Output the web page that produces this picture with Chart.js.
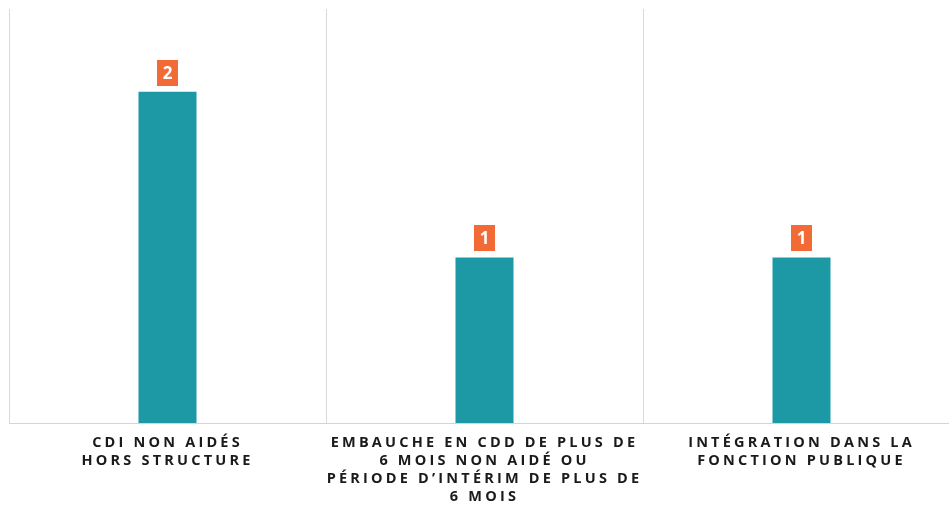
<!doctype html>
<html><head>
<meta charset="utf-8">
<title>Sorties</title>
<script src="https://cdn.jsdelivr.net/npm/chart.js"></script>
<style>
  html, body { margin: 0; padding: 0; background: #fff; overflow: hidden; }
  #wrap { position: relative; width: 960px; height: 505px; }
</style>
</head>
<body>
<div id="wrap"><canvas id="myChart"></canvas></div>
<script>
// categories (already split on lines) and counts
const categories = [
  ['CDI NON AIDÉS', 'HORS STRUCTURE'],
  ['EMBAUCHE EN CDD DE PLUS DE', '6 MOIS NON AIDÉ OU', 'PÉRIODE D’INTÉRIM DE PLUS DE', '6 MOIS'],
  ['INTÉGRATION DANS LA', 'FONCTION PUBLIQUE']
];
const valeurs = [2, 1, 1];

const TEAL = '#1c99a5';
const ORANGE = '#f26a35';
const FONT = "'Open Sans', 'Noto Sans', sans-serif";

// letter spacing for the category labels
const spacing = {
  id: 'spacing',
  beforeDraw(chart) { chart.ctx.letterSpacing = '3.2px'; },
  afterDraw(chart) { chart.ctx.letterSpacing = '0px'; }
};

// orange boxes with the value above each bar
const etiquettes = {
  id: 'etiquettes',
  afterDatasetsDraw(chart) {
    const ctx = chart.ctx;
    const meta = chart.getDatasetMeta(0);
    ctx.save();
    ctx.letterSpacing = '0px';
    ctx.font = "bold 17px " + FONT;
    ctx.textAlign = 'center';
    ctx.textBaseline = 'middle';
    meta.data.forEach((bar, i) => {
      const w = 21, h = 26;
      const x = bar.x, y = bar.y - 6 - h;
      ctx.fillStyle = ORANGE;
      ctx.fillRect(Math.round(x - w / 2), Math.round(y), w, h);
      ctx.fillStyle = '#fff';
      ctx.fillText(String(valeurs[i]), x, y + h / 2 + 1);
    });
    ctx.restore();
  }
};

new Chart(document.getElementById('myChart'), {
  type: 'bar',
  data: {
    labels: categories,
    datasets: [{
      data: valeurs,
      backgroundColor: TEAL,
      barPercentage: 0.183,
      categoryPercentage: 1
    }]
  },
  options: {
    responsive: true,
    maintainAspectRatio: false,
    animation: false,
    layout: { padding: { left: 9, top: 9, right: 0, bottom: -12 } },
    plugins: { legend: { display: false }, tooltip: { enabled: false } },
    scales: {
      x: {
        grid: { color: '#d9d9d9', lineWidth: 1, drawTicks: false },
        border: { color: '#d4d4d4', width: 1 },
        ticks: {
          color: '#1a1a1a',
          padding: 11,
          maxRotation: 0,
          autoSkip: false,
          font: { family: FONT, size: 14.5, weight: 'bold', lineHeight: 18 / 14.5 }
        }
      },
      y: { display: false, min: 0, max: 2.5 }
    }
  },
  plugins: [spacing, etiquettes]
});
</script>
</body></html>
